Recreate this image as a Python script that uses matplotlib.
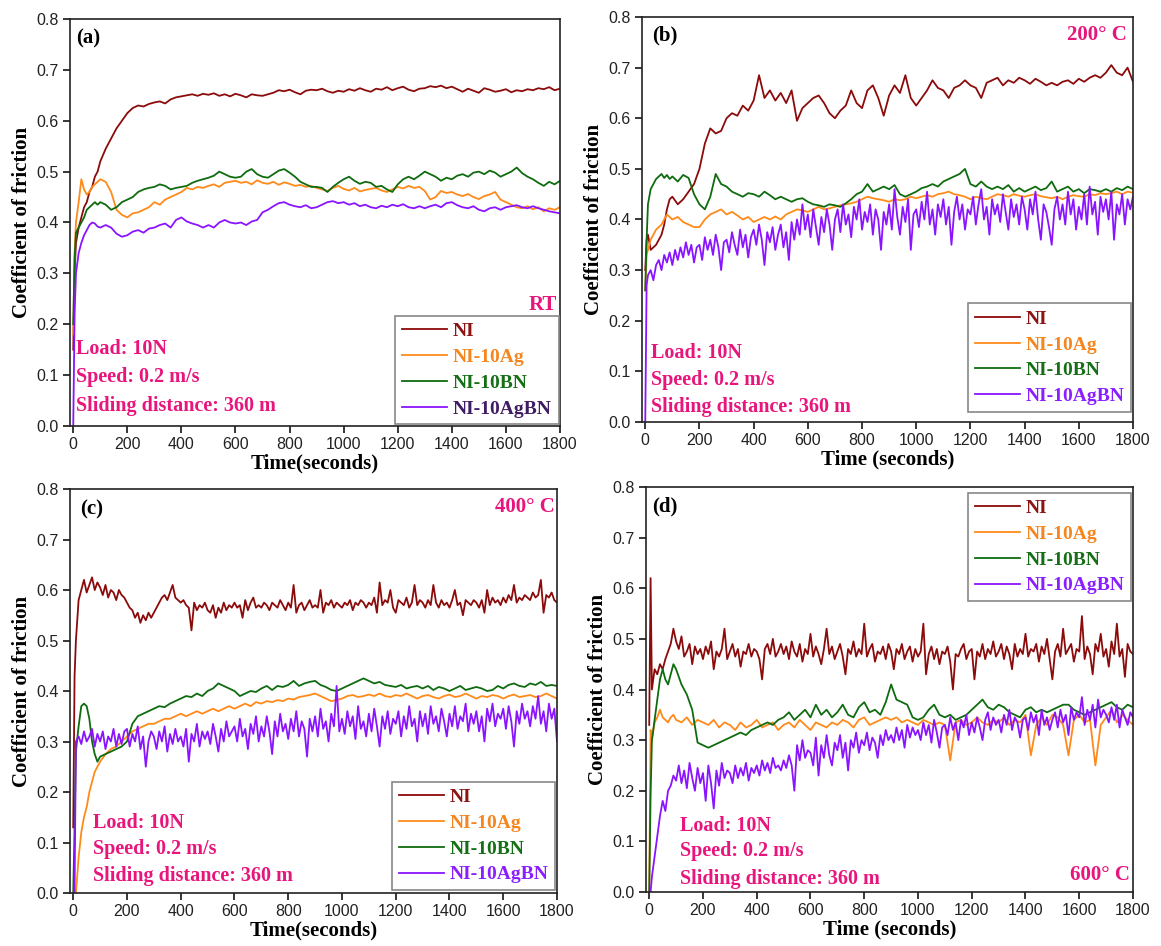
import matplotlib
matplotlib.use("Agg")
import matplotlib.pyplot as plt
from matplotlib.ticker import FormatStrFormatter

# ---------------- data ----------------
EARLY = [0, 5, 10, 20, 30, 40, 50, 60, 70, 80, 90]
TIME = EARLY + list(range(100, 1801, 20))       # coarse sampling grid
TIME_FINE = EARLY + list(range(100, 1801, 10))  # fine grid for noisy traces

SERIES = ["NI", "NI-10Ag", "NI-10BN", "NI-10AgBN"]

# (a) room temperature
a_NI = [0.15, 0.30, 0.36, 0.39, 0.41, 0.43, 0.44, 0.46, 0.47, 0.49, 0.50,
        0.52, 0.545, 0.565, 0.585, 0.60, 0.615, 0.625, 0.63, 0.628, 0.633,
        0.636, 0.638, 0.634, 0.642, 0.646, 0.648, 0.650, 0.652, 0.649, 0.653,
        0.651, 0.654, 0.649, 0.652, 0.648, 0.653, 0.650, 0.646, 0.652, 0.650,
        0.649, 0.652, 0.655, 0.660, 0.658, 0.661, 0.656, 0.652, 0.659, 0.661,
        0.660, 0.663, 0.658, 0.655, 0.659, 0.657, 0.662, 0.659, 0.664, 0.660,
        0.657, 0.663, 0.661, 0.666, 0.660, 0.664, 0.667, 0.661, 0.658, 0.663,
        0.664, 0.668, 0.666, 0.669, 0.664, 0.667, 0.662, 0.657, 0.663, 0.659,
        0.655, 0.664, 0.661, 0.657, 0.659, 0.662, 0.656, 0.660, 0.658, 0.662,
        0.660, 0.664, 0.662, 0.666, 0.660, 0.663]
a_Ag = [0.18, 0.34, 0.40, 0.44, 0.485, 0.465, 0.455, 0.46, 0.47, 0.475, 0.48,
        0.485, 0.48, 0.46, 0.425, 0.415, 0.41, 0.418, 0.42, 0.425, 0.43,
        0.44, 0.435, 0.445, 0.45, 0.455, 0.46, 0.468, 0.465, 0.47, 0.468,
        0.472, 0.475, 0.47, 0.478, 0.48, 0.482, 0.478, 0.48, 0.475, 0.483,
        0.478, 0.476, 0.48, 0.474, 0.479, 0.476, 0.472, 0.474, 0.47, 0.472,
        0.468, 0.465, 0.462, 0.468, 0.472, 0.466, 0.463, 0.468, 0.461, 0.464,
        0.466, 0.468, 0.463, 0.46, 0.465, 0.47, 0.467, 0.472, 0.468, 0.47,
        0.462, 0.445, 0.45, 0.462, 0.458, 0.46, 0.455, 0.452, 0.456, 0.45,
        0.446, 0.452, 0.455, 0.46, 0.445, 0.44, 0.435, 0.43, 0.428, 0.432,
        0.426, 0.43, 0.422, 0.428, 0.425, 0.43]
a_BN = [0.20, 0.33, 0.38, 0.39, 0.40, 0.41, 0.425, 0.43, 0.435, 0.44, 0.435,
        0.44, 0.435, 0.425, 0.43, 0.44, 0.445, 0.45, 0.46, 0.465, 0.468,
        0.47, 0.475, 0.472, 0.465, 0.468, 0.47, 0.472, 0.478, 0.482, 0.485,
        0.488, 0.492, 0.50, 0.495, 0.49, 0.488, 0.49, 0.50, 0.505, 0.495,
        0.49, 0.488, 0.495, 0.502, 0.505, 0.498, 0.49, 0.48, 0.475, 0.47,
        0.47, 0.468, 0.46, 0.47, 0.478, 0.485, 0.49, 0.482, 0.476, 0.48,
        0.478, 0.47, 0.472, 0.465, 0.46, 0.475, 0.485, 0.49, 0.485, 0.492,
        0.50, 0.495, 0.49, 0.482, 0.488, 0.485, 0.492, 0.495, 0.49, 0.498,
        0.50, 0.495, 0.502, 0.498, 0.49, 0.495, 0.50, 0.508, 0.497, 0.49,
        0.485, 0.478, 0.472, 0.48, 0.475, 0.482]
a_AgBN = [0.00, 0.22, 0.30, 0.34, 0.36, 0.375, 0.385, 0.395, 0.40, 0.398, 0.392,
          0.39, 0.395, 0.39, 0.378, 0.372, 0.375, 0.382, 0.385, 0.38, 0.388,
          0.39, 0.395, 0.398, 0.39, 0.405, 0.41, 0.402, 0.398, 0.395, 0.39,
          0.395, 0.39, 0.40, 0.405, 0.40, 0.398, 0.40, 0.395, 0.402, 0.405,
          0.42, 0.425, 0.432, 0.438, 0.44, 0.435, 0.432, 0.43, 0.434, 0.428,
          0.43, 0.435, 0.44, 0.442, 0.438, 0.44, 0.435, 0.438, 0.432, 0.435,
          0.43, 0.428, 0.433, 0.43, 0.435, 0.432, 0.436, 0.43, 0.428, 0.432,
          0.428, 0.432, 0.435, 0.43, 0.438, 0.44, 0.434, 0.43, 0.428, 0.432,
          0.425, 0.422, 0.428, 0.43, 0.425, 0.43, 0.432, 0.434, 0.43, 0.428,
          0.432, 0.428, 0.425, 0.422, 0.42, 0.418]

# (b) 200 C
b_NI = [0.30, 0.36, 0.37, 0.34, 0.345, 0.35, 0.36, 0.37, 0.39, 0.42, 0.44,
        0.445, 0.43, 0.44, 0.455, 0.47, 0.50, 0.55, 0.58, 0.57, 0.575,
        0.60, 0.61, 0.605, 0.625, 0.615, 0.635, 0.685, 0.64, 0.655, 0.635,
        0.65, 0.63, 0.655, 0.595, 0.62, 0.63, 0.64, 0.645, 0.63, 0.61,
        0.60, 0.615, 0.625, 0.655, 0.63, 0.62, 0.655, 0.665, 0.64, 0.605,
        0.645, 0.665, 0.65, 0.685, 0.64, 0.625, 0.64, 0.655, 0.675, 0.66,
        0.655, 0.64, 0.66, 0.665, 0.675, 0.665, 0.66, 0.64, 0.67, 0.675,
        0.68, 0.665, 0.675, 0.67, 0.68, 0.675, 0.668, 0.678, 0.672, 0.665,
        0.67, 0.665, 0.672, 0.675, 0.668, 0.678, 0.672, 0.68, 0.685, 0.68,
        0.69, 0.705, 0.69, 0.685, 0.70, 0.672]
b_Ag = [0.26, 0.33, 0.34, 0.36, 0.37, 0.38, 0.385, 0.39, 0.40, 0.41, 0.405,
        0.40, 0.405, 0.395, 0.39, 0.385, 0.385, 0.40, 0.41, 0.415, 0.42,
        0.41, 0.415, 0.408, 0.40, 0.405, 0.395, 0.40, 0.405, 0.40, 0.406,
        0.40, 0.41, 0.415, 0.42, 0.418, 0.415, 0.42, 0.425, 0.42, 0.422,
        0.425, 0.428, 0.43, 0.432, 0.435, 0.44, 0.445, 0.442, 0.44, 0.438,
        0.435, 0.44, 0.438, 0.44, 0.445, 0.442, 0.445, 0.448, 0.445, 0.45,
        0.452, 0.455, 0.45, 0.448, 0.445, 0.44, 0.445, 0.442, 0.44, 0.445,
        0.45, 0.448, 0.445, 0.45, 0.447, 0.445, 0.448, 0.45, 0.446, 0.444,
        0.442, 0.445, 0.44, 0.445, 0.448, 0.446, 0.445, 0.45, 0.448, 0.452,
        0.45, 0.452, 0.455, 0.45, 0.455, 0.453]
b_BN = [0.26, 0.36, 0.43, 0.46, 0.47, 0.48, 0.485, 0.49, 0.482, 0.488, 0.48,
        0.485, 0.475, 0.488, 0.482, 0.45, 0.43, 0.42, 0.445, 0.49, 0.47,
        0.465, 0.455, 0.45, 0.445, 0.452, 0.45, 0.445, 0.455, 0.448, 0.44,
        0.445, 0.44, 0.435, 0.44, 0.442, 0.435, 0.43, 0.428, 0.425, 0.43,
        0.428, 0.425, 0.432, 0.44, 0.45, 0.455, 0.47, 0.455, 0.46, 0.465,
        0.46, 0.468, 0.45, 0.445, 0.45, 0.455, 0.462, 0.465, 0.47, 0.465,
        0.475, 0.48, 0.485, 0.49, 0.50, 0.47, 0.465, 0.475, 0.465, 0.46,
        0.465, 0.46, 0.468, 0.455, 0.462, 0.455, 0.46, 0.465, 0.458, 0.462,
        0.475, 0.455, 0.46, 0.465, 0.455, 0.46, 0.452, 0.46, 0.458, 0.455,
        0.46, 0.455, 0.462, 0.458, 0.465, 0.46]
b_AgBN = [0.00, 0.27, 0.29, 0.30, 0.28, 0.31, 0.32, 0.30, 0.33, 0.315, 0.335,
          0.31, 0.34, 0.32, 0.345, 0.325, 0.355, 0.33, 0.35, 0.315, 0.345,
          0.35, 0.32, 0.365, 0.34, 0.36, 0.33, 0.37, 0.345, 0.30, 0.355,
          0.36, 0.335, 0.375, 0.35, 0.33, 0.38, 0.345, 0.37, 0.325, 0.365,
          0.38, 0.35, 0.39, 0.36, 0.31, 0.375, 0.355, 0.385, 0.34, 0.37,
          0.39, 0.345, 0.375, 0.32, 0.395, 0.36, 0.40, 0.37, 0.43, 0.38,
          0.41, 0.365, 0.42, 0.385, 0.35, 0.405, 0.375, 0.42, 0.39, 0.34,
          0.40, 0.42, 0.375, 0.43, 0.39, 0.41, 0.365, 0.425, 0.40, 0.44,
          0.38, 0.415, 0.395, 0.43, 0.37, 0.42, 0.40, 0.34, 0.415, 0.39,
          0.43, 0.38, 0.46, 0.405, 0.37, 0.425, 0.395, 0.44, 0.34, 0.41,
          0.42, 0.385, 0.435, 0.40, 0.455, 0.39, 0.42, 0.37, 0.43, 0.405,
          0.44, 0.39, 0.425, 0.35, 0.415, 0.445, 0.40, 0.43, 0.38, 0.42,
          0.41, 0.445, 0.39, 0.43, 0.46, 0.40, 0.425, 0.37, 0.44, 0.41,
          0.43, 0.395, 0.45, 0.415, 0.38, 0.44, 0.405, 0.43, 0.39, 0.445,
          0.42, 0.38, 0.44, 0.41, 0.455, 0.40, 0.36, 0.43, 0.415, 0.385,
          0.35, 0.42, 0.445, 0.40, 0.43, 0.39, 0.455, 0.41, 0.44, 0.38,
          0.425, 0.40, 0.45, 0.39, 0.465, 0.41, 0.435, 0.37, 0.445, 0.415,
          0.44, 0.40, 0.455, 0.36, 0.43, 0.41, 0.45, 0.39, 0.44, 0.42,
          0.445]

# (c) 400 C
c_NI = [0.13, 0.43, 0.50, 0.58, 0.60, 0.62, 0.595, 0.61, 0.625, 0.60, 0.615,
        0.605, 0.59, 0.61, 0.585, 0.60, 0.595, 0.58, 0.60, 0.59, 0.585,
        0.575, 0.565, 0.56, 0.545, 0.555, 0.535, 0.55, 0.54, 0.555, 0.545,
        0.555, 0.565, 0.575, 0.585, 0.59, 0.58, 0.595, 0.61, 0.585, 0.58,
        0.575, 0.58, 0.57, 0.565, 0.52, 0.575, 0.56, 0.57, 0.565, 0.575,
        0.56, 0.555, 0.57, 0.545, 0.565, 0.555, 0.575, 0.56, 0.57, 0.565,
        0.575, 0.565, 0.57, 0.545, 0.58, 0.56, 0.575, 0.585, 0.565, 0.57,
        0.565, 0.575, 0.57, 0.56, 0.575, 0.57, 0.565, 0.58, 0.57, 0.56,
        0.575, 0.565, 0.61, 0.555, 0.57, 0.575, 0.56, 0.57, 0.58, 0.565,
        0.57, 0.565, 0.60, 0.555, 0.575, 0.57, 0.58, 0.565, 0.575, 0.57,
        0.565, 0.575, 0.57, 0.58, 0.56, 0.575, 0.57, 0.58, 0.575, 0.565,
        0.575, 0.57, 0.585, 0.555, 0.615, 0.57, 0.58, 0.575, 0.60, 0.565,
        0.555, 0.58, 0.575, 0.57, 0.585, 0.565, 0.575, 0.61, 0.57, 0.58,
        0.575, 0.565, 0.58, 0.57, 0.61, 0.575, 0.565, 0.58, 0.57, 0.575,
        0.565, 0.58, 0.60, 0.57, 0.575, 0.55, 0.58, 0.575, 0.57, 0.58,
        0.575, 0.565, 0.58, 0.555, 0.60, 0.57, 0.585, 0.575, 0.58, 0.57,
        0.585, 0.575, 0.59, 0.58, 0.61, 0.575, 0.585, 0.58, 0.59, 0.585,
        0.58, 0.595, 0.585, 0.59, 0.62, 0.555, 0.59, 0.585, 0.595, 0.58,
        0.575]
c_Ag = [0.0, 0.0, 0.0, 0.07, 0.12, 0.15, 0.17, 0.20, 0.22, 0.24, 0.25,
        0.26, 0.275, 0.285, 0.29, 0.30, 0.31, 0.32, 0.325, 0.33, 0.335,
        0.335, 0.34, 0.345, 0.345, 0.35, 0.355, 0.35, 0.355, 0.36, 0.355,
        0.36, 0.365, 0.36, 0.365, 0.37, 0.365, 0.37, 0.375, 0.37, 0.378,
        0.375, 0.38, 0.378, 0.382, 0.38, 0.385, 0.383, 0.388, 0.39, 0.392,
        0.395, 0.39, 0.385, 0.38, 0.382, 0.385, 0.39, 0.392, 0.388, 0.39,
        0.393, 0.39, 0.395, 0.39, 0.388, 0.392, 0.39, 0.395, 0.39, 0.385,
        0.39, 0.392, 0.388, 0.385, 0.39, 0.393, 0.388, 0.39, 0.395, 0.39,
        0.385, 0.39, 0.388, 0.392, 0.39, 0.385, 0.39, 0.393, 0.388, 0.39,
        0.392, 0.388, 0.39, 0.395, 0.39, 0.385]
c_BN = [0.0, 0.13, 0.28, 0.33, 0.37, 0.375, 0.37, 0.345, 0.30, 0.275, 0.26,
        0.27, 0.275, 0.28, 0.285, 0.29, 0.30, 0.335, 0.35, 0.355, 0.36,
        0.365, 0.37, 0.368, 0.375, 0.38, 0.385, 0.39, 0.388, 0.395, 0.39,
        0.40, 0.405, 0.415, 0.41, 0.405, 0.40, 0.39, 0.395, 0.40, 0.398,
        0.405, 0.41, 0.402, 0.41, 0.408, 0.412, 0.42, 0.41, 0.415, 0.418,
        0.42, 0.412, 0.408, 0.402, 0.40, 0.405, 0.41, 0.415, 0.42, 0.425,
        0.42, 0.415, 0.418, 0.412, 0.41, 0.408, 0.412, 0.405, 0.408, 0.41,
        0.405, 0.41, 0.402, 0.408, 0.405, 0.40, 0.405, 0.41, 0.402, 0.405,
        0.408, 0.405, 0.40, 0.402, 0.41, 0.405, 0.412, 0.415, 0.41, 0.408,
        0.415, 0.412, 0.418, 0.41, 0.412, 0.41]
c_AgBN = [0.0, 0.0, 0.30, 0.31, 0.295, 0.32, 0.30, 0.31, 0.325, 0.29, 0.315,
          0.30, 0.32, 0.285, 0.31, 0.30, 0.325, 0.29, 0.315, 0.295, 0.32,
          0.325, 0.29, 0.315, 0.30, 0.33, 0.285, 0.31, 0.25, 0.30, 0.32,
          0.31, 0.285, 0.32, 0.30, 0.33, 0.28, 0.315, 0.295, 0.325, 0.30,
          0.31, 0.29, 0.325, 0.26, 0.315, 0.30, 0.335, 0.29, 0.32, 0.305,
          0.32, 0.295, 0.335, 0.31, 0.28, 0.325, 0.30, 0.34, 0.31, 0.32,
          0.33, 0.30, 0.345, 0.31, 0.325, 0.285, 0.335, 0.315, 0.35, 0.30,
          0.33, 0.31, 0.35, 0.32, 0.275, 0.34, 0.31, 0.355, 0.32, 0.335,
          0.305, 0.345, 0.32, 0.36, 0.31, 0.34, 0.325, 0.27, 0.345, 0.32,
          0.35, 0.31, 0.365, 0.325, 0.34, 0.30, 0.355, 0.33, 0.41, 0.32,
          0.345, 0.315, 0.36, 0.33, 0.35, 0.305, 0.37, 0.325, 0.34, 0.31,
          0.355, 0.32, 0.365, 0.33, 0.29, 0.35, 0.325, 0.36, 0.315, 0.345,
          0.335, 0.36, 0.31, 0.35, 0.325, 0.37, 0.33, 0.345, 0.30, 0.36,
          0.33, 0.355, 0.315, 0.37, 0.335, 0.35, 0.32, 0.365, 0.34, 0.31,
          0.355, 0.33, 0.37, 0.325, 0.35, 0.34, 0.375, 0.32, 0.355, 0.335,
          0.36, 0.32, 0.35, 0.30, 0.365, 0.34, 0.375, 0.33, 0.355, 0.345,
          0.365, 0.325, 0.37, 0.34, 0.29, 0.36, 0.335, 0.375, 0.345, 0.36,
          0.33, 0.37, 0.345, 0.39, 0.335, 0.36, 0.32, 0.375, 0.345, 0.365,
          0.30]

# (d) 600 C
d_NI = [0.33, 0.62, 0.40, 0.44, 0.43, 0.45, 0.44, 0.46, 0.475, 0.49, 0.52,
        0.495, 0.48, 0.505, 0.465, 0.475, 0.49, 0.45, 0.485, 0.47, 0.48,
        0.46, 0.485, 0.47, 0.495, 0.44, 0.475, 0.465, 0.48, 0.52, 0.46,
        0.475, 0.49, 0.465, 0.48, 0.445, 0.475, 0.47, 0.49, 0.465, 0.48,
        0.475, 0.46, 0.42, 0.48, 0.49, 0.47, 0.50, 0.465, 0.475, 0.49,
        0.47, 0.485, 0.46, 0.495, 0.475, 0.465, 0.49, 0.455, 0.48, 0.47,
        0.51, 0.465, 0.485, 0.47, 0.45, 0.48, 0.52, 0.47, 0.485, 0.46,
        0.475, 0.49, 0.465, 0.43, 0.48, 0.47, 0.495, 0.465, 0.48, 0.47,
        0.53, 0.465, 0.48, 0.49, 0.455, 0.475, 0.47, 0.485, 0.46, 0.49,
        0.475, 0.44, 0.48, 0.47, 0.49, 0.46, 0.475, 0.485, 0.455, 0.48,
        0.465, 0.475, 0.53, 0.43, 0.47, 0.485, 0.46, 0.48, 0.45, 0.475,
        0.47, 0.485, 0.455, 0.40, 0.47, 0.465, 0.48, 0.49, 0.46, 0.475,
        0.48, 0.42, 0.475, 0.465, 0.49, 0.46, 0.48, 0.47, 0.495, 0.465,
        0.475, 0.49, 0.46, 0.485, 0.47, 0.44, 0.49, 0.465, 0.48, 0.47,
        0.51, 0.465, 0.48, 0.475, 0.49, 0.455, 0.485, 0.47, 0.50, 0.46,
        0.42, 0.475, 0.49, 0.465, 0.52, 0.47, 0.48, 0.49, 0.455, 0.48,
        0.475, 0.545, 0.46, 0.485, 0.47, 0.43, 0.49, 0.475, 0.51, 0.465,
        0.48, 0.445, 0.495, 0.47, 0.53, 0.465, 0.48, 0.425, 0.49, 0.475,
        0.47]
d_Ag = [0.0, 0.32, 0.30, 0.335, 0.345, 0.36, 0.345, 0.34, 0.335, 0.345, 0.35,
        0.34, 0.335, 0.345, 0.33, 0.34, 0.335, 0.33, 0.34, 0.325, 0.335,
        0.33, 0.32, 0.335, 0.325, 0.33, 0.34, 0.325, 0.33, 0.335, 0.32,
        0.33, 0.335, 0.325, 0.34, 0.33, 0.32, 0.335, 0.33, 0.325, 0.335,
        0.33, 0.34, 0.335, 0.325, 0.34, 0.345, 0.33, 0.335, 0.34, 0.345,
        0.34, 0.345, 0.335, 0.34, 0.335, 0.33, 0.34, 0.335, 0.33, 0.335,
        0.33, 0.26, 0.335, 0.34, 0.33, 0.335, 0.345, 0.335, 0.33, 0.34,
        0.335, 0.345, 0.33, 0.34, 0.335, 0.35, 0.27, 0.33, 0.345, 0.33,
        0.35, 0.345, 0.33, 0.27, 0.34, 0.35, 0.335, 0.34, 0.25, 0.33,
        0.345, 0.36, 0.335, 0.35, 0.34, 0.33]
d_BN = [0.0, 0.19, 0.30, 0.34, 0.38, 0.42, 0.44, 0.42, 0.41, 0.43, 0.45,
        0.44, 0.41, 0.39, 0.36, 0.295, 0.29, 0.285, 0.29, 0.295, 0.30,
        0.305, 0.31, 0.315, 0.31, 0.32, 0.325, 0.33, 0.335, 0.33, 0.34,
        0.345, 0.355, 0.34, 0.35, 0.36, 0.345, 0.37, 0.35, 0.36, 0.345,
        0.355, 0.37, 0.35, 0.345, 0.365, 0.375, 0.355, 0.36, 0.35, 0.375,
        0.41, 0.38, 0.375, 0.37, 0.345, 0.34, 0.345, 0.36, 0.37, 0.35,
        0.345, 0.35, 0.34, 0.345, 0.35, 0.36, 0.37, 0.38, 0.365, 0.36,
        0.37, 0.365, 0.355, 0.35, 0.345, 0.36, 0.365, 0.355, 0.36, 0.355,
        0.36, 0.365, 0.37, 0.37, 0.36, 0.355, 0.35, 0.355, 0.36, 0.365,
        0.37, 0.375, 0.365, 0.36, 0.37, 0.365]
d_AgBN = [0.0, 0.0, 0.03, 0.07, 0.11, 0.15, 0.18, 0.16, 0.20, 0.21, 0.23,
          0.22, 0.25, 0.215, 0.24, 0.205, 0.255, 0.225, 0.20, 0.245, 0.215,
          0.235, 0.18, 0.25, 0.215, 0.165, 0.24, 0.21, 0.255, 0.225, 0.24,
          0.235, 0.215, 0.25, 0.225, 0.245, 0.23, 0.255, 0.22, 0.245, 0.235,
          0.25, 0.23, 0.26, 0.24, 0.255, 0.235, 0.265, 0.245, 0.25, 0.24,
          0.26, 0.245, 0.27, 0.25, 0.20, 0.29, 0.26, 0.30, 0.265, 0.28,
          0.275, 0.25, 0.305, 0.23, 0.29, 0.265, 0.31, 0.27, 0.25, 0.295,
          0.28, 0.31, 0.265, 0.295, 0.24, 0.30, 0.285, 0.315, 0.275, 0.30,
          0.29, 0.315, 0.28, 0.305, 0.295, 0.265, 0.31, 0.29, 0.32, 0.30,
          0.31, 0.295, 0.325, 0.30, 0.32, 0.285, 0.33, 0.305, 0.325, 0.31,
          0.32, 0.30, 0.335, 0.31, 0.33, 0.295, 0.34, 0.315, 0.285, 0.325,
          0.33, 0.31, 0.345, 0.32, 0.335, 0.30, 0.34, 0.325, 0.35, 0.31,
          0.335, 0.315, 0.345, 0.325, 0.30, 0.34, 0.355, 0.32, 0.345, 0.33,
          0.34, 0.315, 0.35, 0.33, 0.36, 0.32, 0.345, 0.335, 0.305, 0.34,
          0.345, 0.32, 0.355, 0.335, 0.35, 0.31, 0.36, 0.33, 0.345, 0.32,
          0.34, 0.355, 0.325, 0.36, 0.335, 0.35, 0.31, 0.365, 0.34, 0.355,
          0.345, 0.385, 0.33, 0.36, 0.34, 0.37, 0.325, 0.38, 0.345, 0.36,
          0.35, 0.335, 0.365, 0.34, 0.37, 0.325, 0.36, 0.345, 0.33, 0.355,
          0.345]


def grid_for(vals):
    return TIME_FINE if len(vals) == len(TIME_FINE) else TIME


PANEL_DATA = {
    "a": [a_NI, a_Ag, a_BN, a_AgBN],
    "b": [b_NI, b_Ag, b_BN, b_AgBN],
    "c": [c_NI, c_Ag, c_BN, c_AgBN],
    "d": [d_NI, d_Ag, d_BN, d_AgBN],
}
CONDITIONS = {"a": "RT", "b": "200° C", "c": "400° C", "d": "600° C"}
XLABELS = {"a": "Time(seconds)", "b": "Time (seconds)",
           "c": "Time(seconds)", "d": "Time (seconds)"}
INFO_LINES = ["Load: 10N", "Speed: 0.2 m/s", "Sliding distance: 360 m"]
YTICKS = [0.0, 0.1, 0.2, 0.3, 0.4, 0.5, 0.6, 0.7, 0.8]
XTICKS = [0, 200, 400, 600, 800, 1000, 1200, 1400, 1600, 1800]

# ---------------- styles ----------------
LINE_COLORS = ["#8B0A0A", "#FF8A1A", "#0F6B0F", "#8A14FF"]
TEXT_COLORS = {"a": ["#8B1414", "#F5861F", "#157015", "#3F1C63"]}
DEFAULT_TEXT_COLORS = ["#8B1414", "#F5861F", "#157015", "#8A1EFF"]
PINK = "#E8157C"
SERIF = ["Liberation Serif", "DejaVu Serif"]
SANS = ["Liberation Sans", "DejaVu Sans"]

W, H = 1161, 946
fig = plt.figure(figsize=(W / 100, H / 100), dpi=100)

# axes rectangles in pixels: left, right, top, bottom
RECTS = {
    "a": (70, 560, 19, 426),
    "b": (642, 1133, 17, 422),
    "c": (70, 557, 489, 893),
    "d": (646, 1133, 487, 892),
}
LEGEND_POS = {
    "a": ("lower right", (0.997, 0.004)),
    "b": ("lower right", (0.996, 0.025)),
    "c": ("lower right", (0.996, 0.007)),
    "d": ("upper right", (0.996, 0.986)),
}
INFO_POS = {
    "a": (0.012, [0.189, 0.120, 0.050]),
    "b": (0.018, [0.170, 0.104, 0.037]),
    "c": (0.047, [0.173, 0.108, 0.042]),
    "d": (0.070, [0.163, 0.101, 0.033]),
}
COND_POS = {
    "a": (0.994, 0.297),
    "b": (0.988, 0.955),
    "c": (0.996, 0.955),
    "d": (0.994, 0.042),
}
LABEL_POS = {"a": (0.012, 0.953), "b": (0.020, 0.955),
             "c": (0.020, 0.950), "d": (0.013, 0.952)}

for key in ["a", "b", "c", "d"]:
    l, r, t, b = RECTS[key]
    ax = fig.add_axes([l / W, 1 - b / H, (r - l) / W, (b - t) / H])
    lines = []
    for name, vals, col in zip(SERIES, PANEL_DATA[key], LINE_COLORS):
        ln, = ax.plot(grid_for(vals), vals, color=col, lw=1.3, label=name)
        lines.append(ln)
    ax.set_xlim(-12, 1800)
    ax.set_ylim(0, 0.8)
    ax.set_xticks(XTICKS)
    ax.set_yticks(YTICKS)
    ax.yaxis.set_major_formatter(FormatStrFormatter("%.1f"))
    ax.tick_params(direction="out", length=5, width=1.1, labelsize=11.5,
                   top=False, right=False, pad=3)
    for lab in ax.get_xticklabels() + ax.get_yticklabels():
        lab.set_family(SANS)
        lab.set_color("#222222")
    for sp in ax.spines.values():
        sp.set_linewidth(1.2)
        sp.set_color("#222222")
    ax.set_xlabel(XLABELS[key], family=SERIF, fontweight="bold",
                  fontsize=15, labelpad=1)
    ax.set_ylabel("Coefficient of friction", family=SERIF, fontweight="bold",
                  fontsize=15, labelpad=3)

    loc, anchor = LEGEND_POS[key]
    leg = ax.legend(handles=lines, loc=loc, bbox_to_anchor=anchor,
                    borderaxespad=0, fancybox=False, framealpha=1,
                    edgecolor="#888888", handlelength=2.3, handletextpad=0.3,
                    labelspacing=0.42, borderpad=0.35,
                    prop={"family": SERIF, "weight": "bold", "size": 14})
    leg.get_frame().set_linewidth(1.2)
    tcols = TEXT_COLORS.get(key, DEFAULT_TEXT_COLORS)
    for txt, c in zip(leg.get_texts(), tcols):
        txt.set_color(c)

    ix, iys = INFO_POS[key]
    for line, yy in zip(INFO_LINES, iys):
        ax.text(ix, yy, line, transform=ax.transAxes, ha="left", va="center",
                color=PINK, family=SERIF, fontweight="bold", fontsize=14.5)

    cx, cy = COND_POS[key]
    ax.text(cx, cy, CONDITIONS[key], transform=ax.transAxes, ha="right",
            va="center", color=PINK, family=SERIF, fontweight="bold",
            fontsize=15)
    lx, ly = LABEL_POS[key]
    ax.text(lx, ly, f"({key})", transform=ax.transAxes, ha="left",
            va="center", color="black", family=SERIF, fontweight="bold",
            fontsize=15)

fig.savefig("out.png", dpi=100)
